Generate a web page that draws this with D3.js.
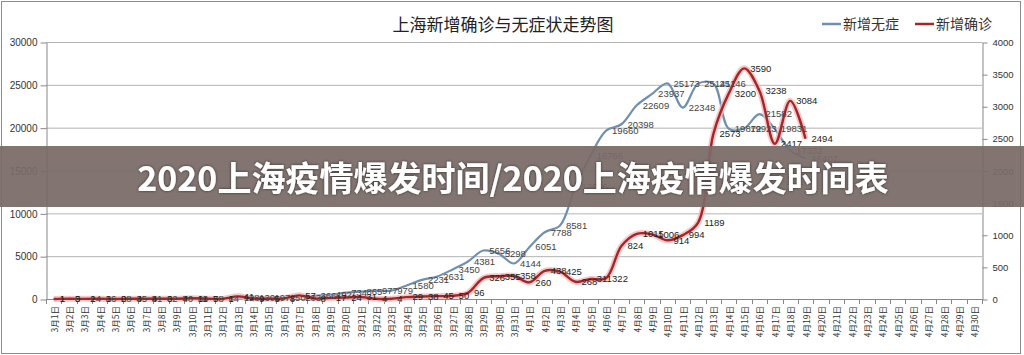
<!DOCTYPE html>
<html><head><meta charset="utf-8">
<script src="https://cdn.jsdelivr.net/npm/d3@7/dist/d3.min.js"></script>
<style>
html,body{margin:0;padding:0;background:#fff;}
svg{display:block;}
</style></head>
<body>
<svg id="chart" width="1024" height="355"></svg>
<script>
// ---- data ----
const dates = [];
for (let d = 1; d <= 31; d++) dates.push("3月" + d + "日");
for (let d = 1; d <= 30; d++) dates.push("4月" + d + "日");

const asymptomatic = [1,5,14,16,28,45,51,62,76,64,78,64,128,130,197,150,203,366,492,734,865,977,979,1580,2231,2631,3450,4381,5656,5298,4144,6051,7788,8581,13086,16766,19660,20398,22609,23937,25173,22348,25141,25146,19872,19923,21582,19831,17332,16407];
const confirmed = [1,3,2,3,0,3,4,3,4,11,5,1,41,9,5,8,57,8,17,24,31,4,4,29,38,45,50,96,326,355,358,260,438,425,268,311,322,824,1015,1006,914,994,1189,2573,3200,3590,3238,2417,3084,2494];

const leftTicks = [0,5000,10000,15000,20000,25000,30000];
const rightTicks = [0,500,1000,1500,2000,2500,3000,3500,4000];

const titleText = "上海新增确诊与无症状走势图";
const seriesNames = ["新增无症","新增确诊"];
const bannerText = "2020上海疫情爆发时间/2020上海疫情爆发时间表";

// ---- layout ----
const svg = d3.select("#chart");
const L = 46, R = 982, T = 42, B = 299;
const blue = "#6f90b2", red = "#a3262a", halo = "#f5b9b9";
const numFont = "'Liberation Sans', Arial, sans-serif";
const cjkFont = "'Noto Sans CJK SC', sans-serif";
const fmt = d3.format("d");

const x = d3.scaleBand().domain(dates).range([L, R]);
const cx = d => x(d) + x.bandwidth() / 2;
const yL = d3.scaleLinear().domain([0, 30000]).range([B, T]);
const yR = d3.scaleLinear().domain([0, 4000]).range([B, T]);

svg.append("rect").attr("width",1024).attr("height",355).attr("fill","#fff");
svg.append("rect").attr("x",1.5).attr("y",1.5).attr("width",1019).attr("height",352)
  .attr("fill","none").attr("stroke","#8c8c8c");

// gridlines
svg.append("g").selectAll("line").data(leftTicks.filter(v => v > 0)).join("line")
  .attr("x1", L).attr("x2", R).attr("y1", d => yL(d) + 0.5).attr("y2", d => yL(d) + 0.5)
  .attr("stroke", "#b4b4b4");

// left axis
const gL = svg.append("g").attr("transform", `translate(${L + 0.5},0.5)`)
  .call(d3.axisLeft(yL).tickValues(leftTicks).tickFormat(fmt).tickSize(6).tickPadding(3).tickSizeOuter(0));
gL.select(".domain").attr("stroke", "#888");
gL.selectAll(".tick line").attr("stroke", "#888");
gL.selectAll("text").attr("font-family", numFont).attr("font-size", 10).attr("fill", "#333");

// right axis
const gR = svg.append("g").attr("transform", `translate(${R + 0.5},0.5)`)
  .call(d3.axisRight(yR).tickValues(rightTicks).tickFormat(fmt).tickSize(5).tickPadding(5).tickSizeOuter(0));
gR.select(".domain").attr("stroke", "#888");
gR.selectAll(".tick line").attr("stroke", "#888");
gR.selectAll("text").attr("font-family", numFont).attr("font-size", 9.5).attr("fill", "#333");

// bottom axis
svg.append("line").attr("x1", L).attr("x2", R).attr("y1", B + 0.5).attr("y2", B + 0.5).attr("stroke", "#888");
const bounds = dates.map(d => x(d)).concat([R]);
svg.append("g").selectAll("line").data(bounds).join("line")
  .attr("x1", d => Math.round(d) + 0.5).attr("x2", d => Math.round(d) + 0.5)
  .attr("y1", B).attr("y2", B + 5).attr("stroke", "#888");
svg.append("g").selectAll("text").data(dates).join("text")
  .attr("transform", d => `translate(${cx(d) + 1},306) rotate(-90)`)
  .attr("text-anchor", "end").attr("dy", "0.35em")
  .attr("font-family", cjkFont).attr("font-size", 8.5).attr("fill", "#333")
  .text(d => d);

// lines
const curve = d3.curveCatmullRom.alpha(0.5);
const lineBlue = d3.line().x((d, i) => cx(dates[i])).y(d => yL(d)).curve(curve);
const lineRed = d3.line().x((d, i) => cx(dates[i])).y(d => yR(d)).curve(curve);

svg.append("path").attr("d", lineBlue(asymptomatic)).attr("fill", "none")
  .attr("stroke", blue).attr("stroke-width", 2.2).attr("stroke-linejoin", "round");
svg.append("path").attr("d", lineRed(confirmed)).attr("fill", "none")
  .attr("stroke", halo).attr("stroke-width", 6).attr("stroke-opacity", 0.8).attr("stroke-linejoin", "round");
svg.append("path").attr("d", lineRed(confirmed)).attr("fill", "none")
  .attr("stroke", red).attr("stroke-width", 2.4).attr("stroke-linejoin", "round");

// data labels
svg.append("g").selectAll("text").data(asymptomatic).join("text")
  .attr("x", (d, i) => cx(dates[i]) + 6).attr("y", d => yL(d)).attr("dy", "0.35em")
  .attr("font-family", numFont).attr("font-size", 9.5).attr("fill", "#444")
  .text(d => d);
svg.append("g").selectAll("text").data(confirmed).join("text")
  .attr("x", (d, i) => cx(dates[i]) + 6).attr("y", d => yR(d)).attr("dy", "0.35em")
  .attr("font-family", numFont).attr("font-size", 9.5).attr("fill", "#222")
  .text(d => d);

// title
svg.append("text").attr("x", 503).attr("y", 31).attr("text-anchor", "middle")
  .attr("font-family", cjkFont).attr("font-size", 17).attr("fill", "#222")
  .text(titleText);

// legend
const legend = [{name: seriesNames[0], color: blue, x: 822}, {name: seriesNames[1], color: red, x: 915}];
const lg = svg.append("g").selectAll("g").data(legend).join("g");
lg.append("line").attr("x1", d => d.x).attr("x2", d => d.x + 19).attr("y1", 24).attr("y2", 24)
  .attr("stroke", d => d.color).attr("stroke-width", 2.5);
lg.append("text").attr("x", d => d.x + 21).attr("y", 24).attr("dy", "0.36em")
  .attr("font-family", cjkFont).attr("font-size", 14).attr("fill", "#333")
  .text(d => d.name);

// banner
const defs = svg.append("defs");
const f = defs.append("filter").attr("id", "sh").attr("x", "-5%").attr("y", "-30%").attr("width", "110%").attr("height", "160%");
f.append("feDropShadow").attr("dx", 0).attr("dy", 0).attr("stdDeviation", 1.5)
  .attr("flood-color", "#000").attr("flood-opacity", 0.6);
svg.append("rect").attr("x", 0).attr("y", 146).attr("width", 1024).attr("height", 61)
  .attr("fill", "#786b66").attr("fill-opacity", 0.93);
svg.append("text").attr("x", 513).attr("y", 191).attr("text-anchor", "middle")
  .attr("font-family", cjkFont).attr("font-weight", "bold").attr("font-size", 34)
  .attr("fill", "#fff").attr("filter", "url(#sh)")
  .text(bannerText);
</script>
</body></html>
